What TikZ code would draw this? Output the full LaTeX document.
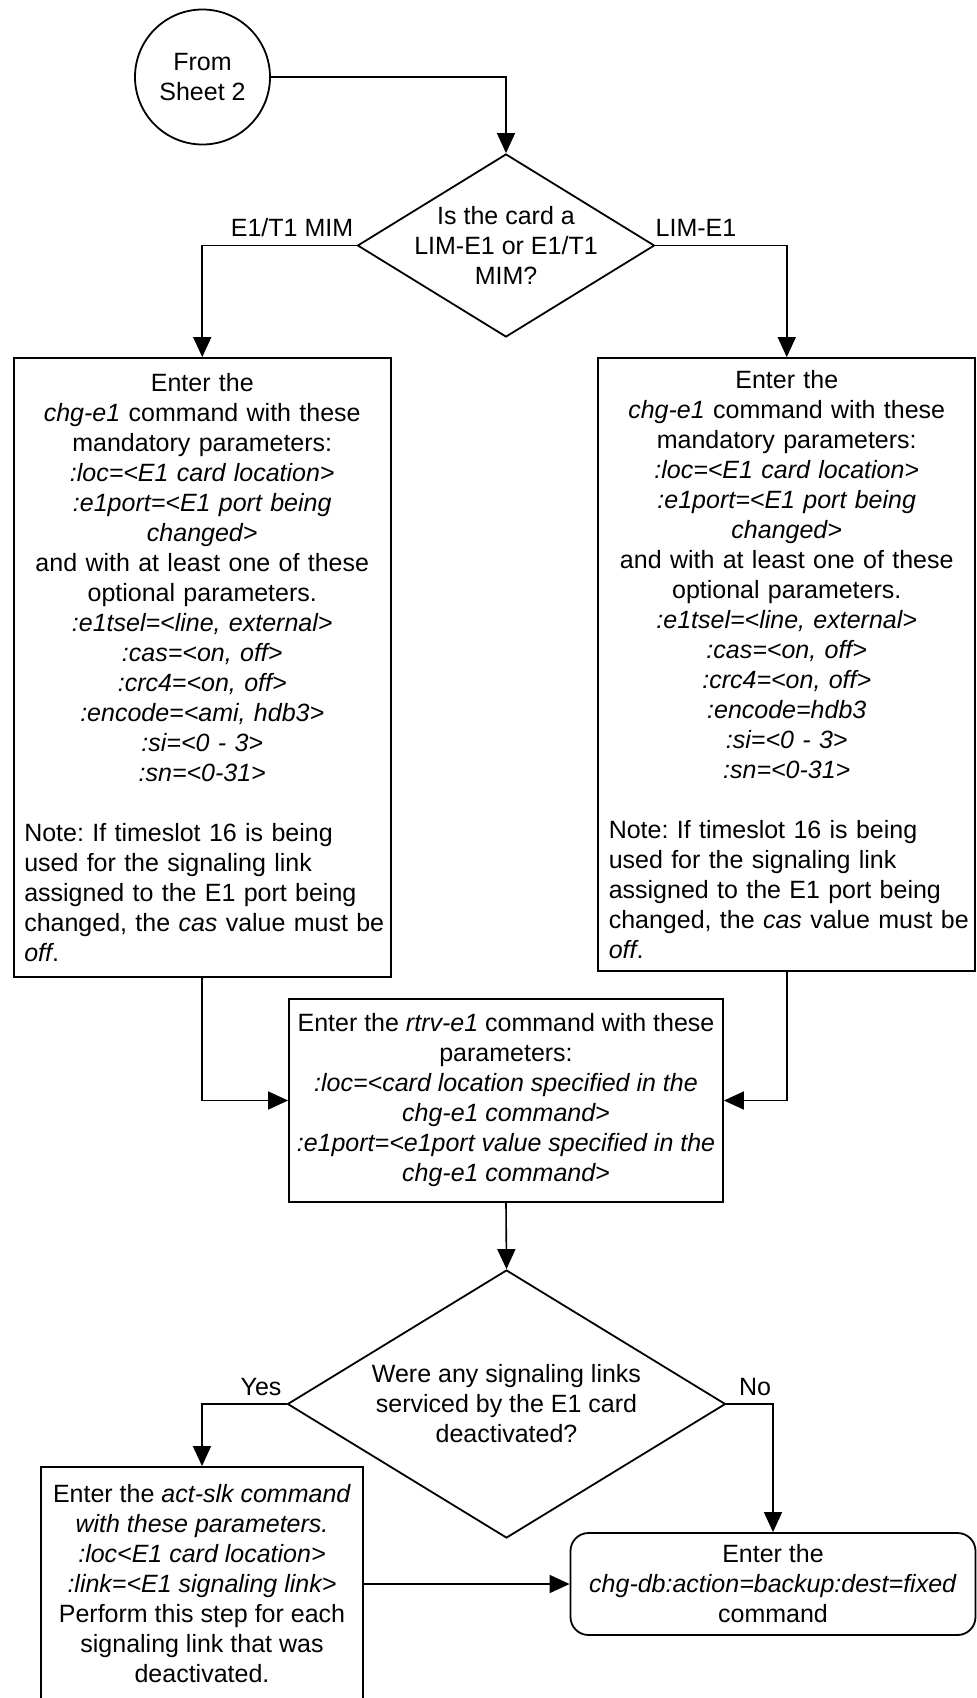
\documentclass[tikz,border=0pt]{standalone}
\usepackage{fontspec}
\setmainfont{Liberation Sans}
\frenchspacing
\usetikzlibrary{arrows.meta, shapes.geometric, positioning}

\begin{document}
\begin{tikzpicture}[
                x=0.5pt, y=-0.5pt,
                font=\fontsize{12.5}{15}\selectfont,
                box/.style={rectangle, draw, line width=0.9pt, inner sep=2pt, align=center},
                notebox/.style={rectangle, draw, line width=0.9pt, inner xsep=2.25pt, inner ysep=0pt, text width=184pt},
                decision/.style={diamond, draw, line width=0.9pt, inner sep=0pt},
                offpage/.style={circle, draw, line width=0.9pt, minimum size=67.5pt, inner sep=0pt, align=center},
                terminal/.style={rectangle, rounded corners=9pt, draw, line width=0.9pt, inner sep=2pt, align=center},
                flow/.style={line width=0.8pt, -{Triangle[length=10pt, width=9pt]}},
                lbl/.style={inner sep=0pt}
            ]
            \useasboundingbox (0,0) rectangle (977,1698);

            \node[offpage] (sheet2) at (202.5,77) {From\\Sheet 2};
            \node[decision, minimum width=148.5pt, minimum height=91.5pt,
                label={[name=cardq, align=center]center:Is the card a\\LIM-E1 or E1/T1\\MIM?}] (cardtype) at (506,245.5) {};
            \node[lbl] (mimlbl) at (292,228) {E1/T1 MIM};
            \node[lbl] (limlbl) at (696,228) {LIM-E1};

            \node[notebox, minimum height=309.5pt] (mimcmd) at (202.25,667.5) {\parindent=0pt
                {\centering Enter the\\
                \textit{chg-e1} command with these\\
                mandatory parameters:\\
                \textit{:loc=<E1 card location>}\\
                \textit{:e1port=<E1 port being}\\
                \textit{changed>}\\
                and with at least one of these\\
                optional parameters.\\
                \textit{:e1tsel=<line, external>}\\
                \textit{:cas=<on, off>}\\
                \textit{:crc4=<on, off>}\\
                \textit{:encode=<ami, hdb3>}\\
                \textit{:si=<0 - 3>}\\
                \textit{:sn=<0-31>}\par}
                \vspace{15pt}
                {\raggedright\leftskip=3pt Note: If timeslot 16 is being\\
                used for the signaling link\\
                assigned to the E1 port being\\
                changed, the \textit{cas} value must be\\
                \textit{off}.\par}};
            \node[notebox, minimum height=306.5pt] (limcmd) at (786.75,664.5) {\parindent=0pt
                {\centering Enter the\\
                \textit{chg-e1} command with these\\
                mandatory parameters:\\
                \textit{:loc=<E1 card location>}\\
                \textit{:e1port=<E1 port being}\\
                \textit{changed>}\\
                and with at least one of these\\
                optional parameters.\\
                \textit{:e1tsel=<line, external>}\\
                \textit{:cas=<on, off>}\\
                \textit{:crc4=<on, off>}\\
                \textit{:encode=hdb3}\\
                \textit{:si=<0 - 3>}\\
                \textit{:sn=<0-31>}\par}
                \vspace{15pt}
                {\raggedright\leftskip=3pt Note: If timeslot 16 is being\\
                used for the signaling link\\
                assigned to the E1 port being\\
                changed, the \textit{cas} value must be\\
                \textit{off}.\par}};

            \node[box, minimum width=217pt, minimum height=101.5pt] (rtrv) at (506,1100.5) {Enter the \textit{rtrv-e1} command with these\\
                parameters:\\
                \textit{:loc=<card location specified in the}\\
                \textit{chg-e1 command>}\\
                \textit{:e1port=<e1port value specified in the}\\
                \textit{chg-e1 command>}};

            \node[decision, minimum width=219pt, minimum height=134pt,
                label={[name=slkq, align=center]center:Were any signaling links\\serviced by the E1 card\\deactivated?}] (slkdown) at (506.5,1404) {};
            \node[lbl] (yeslbl) at (261,1387) {Yes};
            \node[lbl] (nolbl) at (755,1387) {No};

            \node[box, minimum width=161pt, minimum height=117pt] (actslk) at (202,1584) {Enter the \textit{act-slk command}\\
                \textit{with these parameters.}\\
                \textit{:loc<E1 card location>}\\
                \textit{:link=<E1 signaling link>}\\
                Perform this step for each\\
                signaling link that was\\
                deactivated.};
            \node[terminal, minimum width=202.5pt, minimum height=51pt] (backup) at (773,1584) {Enter the\\
                \textit{chg-db:action=backup:dest=fixed}\\
                command};

            \draw[flow] (sheet2.east) -| (cardtype.north);
            \draw[flow] (cardtype.west) -| (mimcmd.north);
            \draw[flow] (cardtype.east) -| (limcmd.north);
            \draw[flow] (mimcmd.south) |- (rtrv.west);
            \draw[flow] (limcmd.south) |- (rtrv.east);
            \draw[flow] (rtrv.south) -- (slkdown.north);
            \draw[flow] (slkdown.west) -| (actslk.north);
            \draw[flow] (slkdown.east) -| (backup.north);
            \draw[flow] (actslk.east) -- (backup.west);
            \end{tikzpicture}
\end{document}
